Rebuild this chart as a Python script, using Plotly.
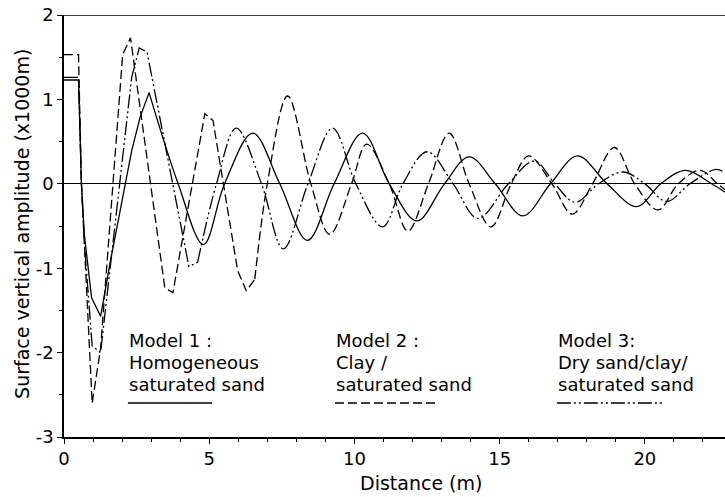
import plotly.graph_objects as go

# ---------------- data ----------------
# Model 1 : homogeneous saturated sand (solid)
m1_head_x = [0, 0.5, 0.6, 0.7, 0.95, 1.26, 1.58, 2.11, 2.33, 2.62, 2.93]
m1_head_y = [1.23, 1.23, 0, -0.6, -1.35, -1.57, -0.95, 0, 0.39, 0.79, 1.08]
m1_tail_x = [2.93, 3.93, 4.8, 5.53, 6.5, 7.43, 8.38, 9.3, 10.28, 11.2, 12.15, 13.1,
             13.95, 14.85, 15.8, 16.75, 17.68, 18.7, 19.72, 20.55, 21.4, 22.3, 22.76]
m1_tail_y = [1.08, 0, -0.72, 0, 0.60, 0, -0.67, 0, 0.60, 0, -0.44, 0,
             0.32, 0, -0.38, 0, 0.33, 0, -0.27, 0, 0.16, 0, -0.10]

# Model 2 : clay / saturated sand (dashed)
m2_head_x = [0, 0.5, 0.6, 0.72, 0.97, 1.26, 2.02, 2.29, 3.47, 3.75, 4.85, 5.13, 5.98, 6.28, 6.57]
m2_head_y = [1.53, 1.53, 0, -0.9, -2.6, -1.95, 1.53, 1.73, -1.23, -1.29, 0.83, 0.75, -1.03, -1.27, -1.13]
m2_tail_x = [6.57, 7.0, 7.7, 8.5, 9.15, 9.9, 10.42, 11.2, 11.84, 12.55, 13.26, 13.95,
             14.7, 15.4, 16.0, 16.8, 17.5, 18.2, 18.95, 19.65, 20.45, 21.15, 21.9, 22.5, 22.76]
m2_tail_y = [-1.13, 0, 1.04, 0, -0.60, 0, 0.47, 0, -0.56, 0, 0.60, 0,
             -0.51, 0, 0.33, 0, -0.36, 0, 0.43, 0, -0.31, 0, 0.16, 0, -0.07]

# Model 3 : dry sand / clay / saturated sand (dash-dot)
m3_head_x = [0, 0.5, 0.6, 0.7, 0.97, 1.26, 2.33, 2.59, 2.86, 4.3, 4.6]
m3_head_y = [1.26, 1.26, 0, -0.7, -1.92, -2.0, 1.26, 1.61, 1.56, -0.98, -0.93]
m3_tail_x = [4.6, 5.25, 5.93, 6.8, 7.55, 8.4, 9.25, 10.05, 10.97, 11.67, 12.5, 13.4,
             14.25, 15.3, 16.2, 16.9, 17.6, 18.4, 19.25, 20.0, 20.75, 21.55, 22.45, 22.76]
m3_tail_y = [-0.93, 0, 0.66, 0, -0.77, 0, 0.66, 0, -0.51, 0, 0.38, 0,
             -0.41, 0, 0.27, 0, -0.22, 0, 0.14, 0, -0.21, 0, 0.17, 0.13]

x_tick_vals = [0, 5, 10, 15, 20]
y_tick_vals = [2, 1, 0, -1, -2, -3]
y_tick_text = ["2", "1", "0", "-1", "-2", "-3"]

legend_titles = ["Model 1 :", "Model 2 :", "Model 3:"]
legend_line2 = ["Homogeneous", "Clay /", "Dry sand/clay/"]
legend_line3 = ["saturated sand", "saturated sand", "saturated sand"]

# ---------------- styles ----------------
FONT = "DejaVu Sans"
dash_m1 = "solid"
dash_m2 = "9px,4px"
dash_m3 = "14px,3px,2px,3px,2px,3px"
LW = 1.3

fig = go.Figure()

def add_model(hx, hy, tx, ty, dash):
    fig.add_trace(go.Scatter(x=hx, y=hy, mode="lines",
                             line=dict(color="black", width=LW, dash=dash),
                             hoverinfo="skip"))
    fig.add_trace(go.Scatter(x=tx, y=ty, mode="lines",
                             line=dict(color="black", width=LW, dash=dash,
                                       shape="spline", smoothing=1.0),
                             hoverinfo="skip"))

add_model(m1_head_x, m1_head_y, m1_tail_x, m1_tail_y, dash_m1)
add_model(m2_head_x, m2_head_y, m2_tail_x, m2_tail_y, dash_m2)
add_model(m3_head_x, m3_head_y, m3_tail_x, m3_tail_y, dash_m3)

X_MAX = 22.76

fig.update_layout(
    width=725, height=497,
    margin=dict(l=64, r=0, t=15, b=60),
    plot_bgcolor="white", paper_bgcolor="white",
    showlegend=False,
    font=dict(family=FONT, size=18, color="black"),
    xaxis=dict(range=[0, X_MAX], tickmode="array", tickvals=x_tick_vals,
               ticks="outside", ticklen=5, tickwidth=1.3, tickcolor="black",
               showline=True, linecolor="black", linewidth=1.5,
               showgrid=False, zeroline=False,
               minor=dict(tickmode="linear", tick0=0, dtick=1, ticks="outside",
                          ticklen=3, tickwidth=1, tickcolor="black"),
               tickfont=dict(family=FONT, size=18, color="black")),
    yaxis=dict(range=[-3, 2], tickmode="array", tickvals=y_tick_vals, ticktext=y_tick_text,
               ticks="outside", ticklen=5, tickwidth=1.3, tickcolor="black",
               showline=True, linecolor="black", linewidth=1.5,
               showgrid=False, zeroline=True, zerolinecolor="black", zerolinewidth=1.3,
               minor=dict(tickmode="linear", tick0=0, dtick=0.5, ticks="outside",
                          ticklen=3, tickwidth=1, tickcolor="black"),
               tickfont=dict(family=FONT, size=18, color="black")),
    # overlay axes to make the ticks cross the axis lines
    xaxis2=dict(overlaying="x", matches="x", anchor="y", side="bottom",
                tickmode="array", tickvals=x_tick_vals, ticks="inside", ticklen=4,
                tickwidth=1.3, tickcolor="black", showticklabels=False,
                showline=False, showgrid=False, zeroline=False,
                minor=dict(tickmode="linear", tick0=0, dtick=1, ticks="inside",
                           ticklen=3, tickwidth=1, tickcolor="black")),
    yaxis2=dict(overlaying="y", matches="y", anchor="x", side="left",
                tickmode="array", tickvals=y_tick_vals, ticks="inside", ticklen=4,
                tickwidth=1.3, tickcolor="black", showticklabels=False,
                showline=False, showgrid=False, zeroline=False,
                minor=dict(tickmode="linear", tick0=0, dtick=0.5, ticks="inside",
                           ticklen=3, tickwidth=1, tickcolor="black")),
)

# top border line
fig.add_shape(type="line", xref="paper", x0=0, x1=1, yref="y", y0=2, y1=2,
              line=dict(color="black", width=1.3))

# legend text and sample lines
leg_x = [2.2, 9.33, 16.97]
leg_x_end = [5.1, 12.84, 20.63]
leg_dash = [dash_m1, dash_m2, dash_m3]
leg_rows_y = [-1.862, -2.117, -2.372]
for i in range(3):
    for txt, yy in zip((legend_titles[i], legend_line2[i], legend_line3[i]), leg_rows_y):
        fig.add_annotation(x=leg_x[i], y=yy, xref="x", yref="y", text=txt,
                           showarrow=False, xanchor="left", yanchor="middle",
                           borderpad=0,
                           font=dict(family=FONT, size=18, color="black"))
    fig.add_shape(type="line", xref="x", yref="y", x0=leg_x[i], x1=leg_x_end[i],
                  y0=-2.597, y1=-2.597, line=dict(color="black", width=LW, dash=leg_dash[i]))

# axis titles
fig.add_annotation(x=12.29, y=-0.108, xref="x", yref="paper", text="Distance (m)",
                   showarrow=False, xanchor="center", yanchor="middle",
                   font=dict(family=FONT, size=19, color="black"))
fig.add_annotation(x=-0.0635, y=0.505, xref="paper", yref="paper",
                   text="Surface vertical amplitude (x1000m)", textangle=-90,
                   showarrow=False, xanchor="center", yanchor="middle",
                   font=dict(family=FONT, size=19, color="black"))

fig.write_html("out.html")
